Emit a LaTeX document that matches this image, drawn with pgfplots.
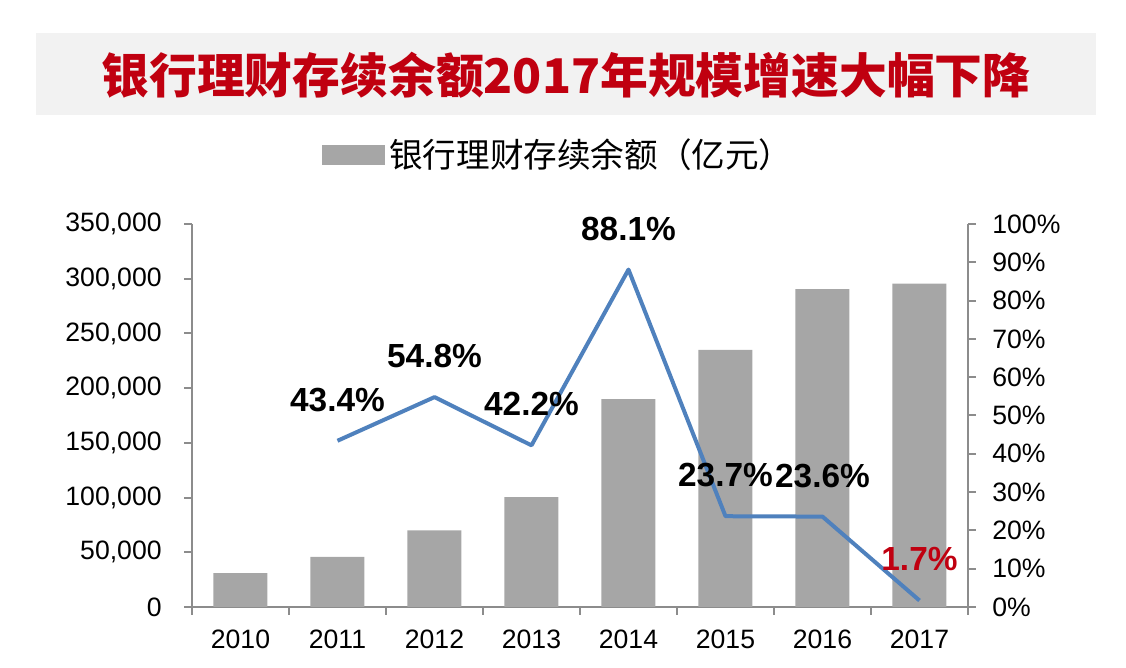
\documentclass[border=0pt]{standalone}
\usepackage{pgfplots}
\pgfplotsset{compat=1.18}
\usepackage{fontspec}
\setmainfont{Liberation Sans}
\newfontfamily\cjk{Noto Sans CJK SC}
\definecolor{barc}{HTML}{A6A6A6}
\definecolor{linec}{HTML}{4F81BD}
\definecolor{axc}{HTML}{8C8C8C}
\definecolor{titc}{HTML}{C00010}
\definecolor{bannerc}{HTML}{F2F2F2}
\newcommand{\tk}{\fontsize{13.3}{15}\selectfont}
\newcommand{\lbl}{\fontsize{16.7}{18}\selectfont\bfseries}
\begin{document}
\begin{tikzpicture}
\useasboundingbox (0,0) rectangle (563pt,334pt);
\fill[bannerc] (18pt,276.5pt) rectangle (548pt,317.5pt);
\node[font=\fontsize{23.9}{27}\selectfont\cjk\bfseries, text=titc] at (283pt,296.5pt) {银行理财存续余额2017年规模增速大幅下降};
\begin{axis}[
  at={(96pt,30.5pt)}, anchor=south west, scale only axis,
  width=388pt, height=191.5pt,
  xmin=-0.5, xmax=7.5, ymin=0, ymax=350000,
  axis x line*=bottom, axis y line*=left,
  axis line style={axc, line width=1pt},
  tick style={axc, line width=1pt}, tick align=outside,
  major tick length=4pt,
  xtick={-0.5,0.5,1.5,2.5,3.5,4.5,5.5,6.5,7.5},
  x tick label as interval,
  xticklabels={2010,2011,2012,2013,2014,2015,2016,2017},
  ytick={0,50000,100000,150000,200000,250000,300000,350000},
  scaled y ticks=false,
  /pgf/number format/fixed,
  /pgf/number format/1000 sep={,},
  /pgf/number format/assume math mode=true,
  ticklabel style={font=\tk},
  yticklabel style={anchor=east, inner sep=0pt, xshift=-11pt},
  xticklabel style={anchor=north, inner sep=0pt, yshift=-7.5pt},
  legend style={at={(0.1675,1.18)}, anchor=west, draw=none, fill=none, inner sep=0pt, font=\fontsize{16.8}{19}\selectfont\cjk},
  legend image code/.code={\fill[barc] (0pt,-5pt) rectangle (31.5pt,5pt);},
  legend cell align=left,
]
\addplot[ybar, bar width=27pt, fill=barc, draw=none] coordinates {
(0,31000) (1,45700) (2,70000) (3,100500) (4,190000) (5,235000) (6,290500) (7,295500)};
\addlegendentry{银行理财存续余额（亿元）}
\end{axis}
\begin{axis}[
  at={(96pt,30.5pt)}, anchor=south west, scale only axis,
  width=388pt, height=191.5pt,
  xmin=-0.5, xmax=7.5, ymin=0, ymax=100,
  axis x line=none, axis y line*=right,
  axis line style={axc, line width=1pt},
  tick style={axc, line width=1pt}, tick align=outside,
  major tick length=4pt,
  xtick=\empty,
  ytick={0,10,...,100},
  yticklabel={\pgfmathprintnumber{\tick}\%},
  /pgf/number format/fixed,
  /pgf/number format/assume math mode=true,
  ticklabel style={font=\tk},
  yticklabel style={anchor=west, inner sep=0pt, xshift=8pt},
  clip=false,
]
\addplot[color=linec, line width=2pt, line join=round, mark=none] coordinates {
(1,43.4) (2,54.8) (3,42.2) (4,88.1) (5,23.7) (6,23.6) (7,1.7)};
\addplot[draw=none, mark=none, nodes near coords, point meta=explicit symbolic,
  every node near coord/.style={font=\lbl, anchor=center, yshift=20.5pt, text=black}]
  table[meta=lab] {
x y lab
1 43.4 43.4\%
2 54.8 54.8\%
3 42.2 42.2\%
4 88.1 88.1\%
5 23.7 23.7\%
6 23.6 23.6\%
};
\addplot[draw=none, mark=none, nodes near coords, point meta=explicit symbolic,
  every node near coord/.style={font=\lbl, anchor=center, yshift=20.5pt, text=titc}]
  table[meta=lab] {
x y lab
7 1.7 1.7\%
};
\end{axis}
\end{tikzpicture}
\end{document}
